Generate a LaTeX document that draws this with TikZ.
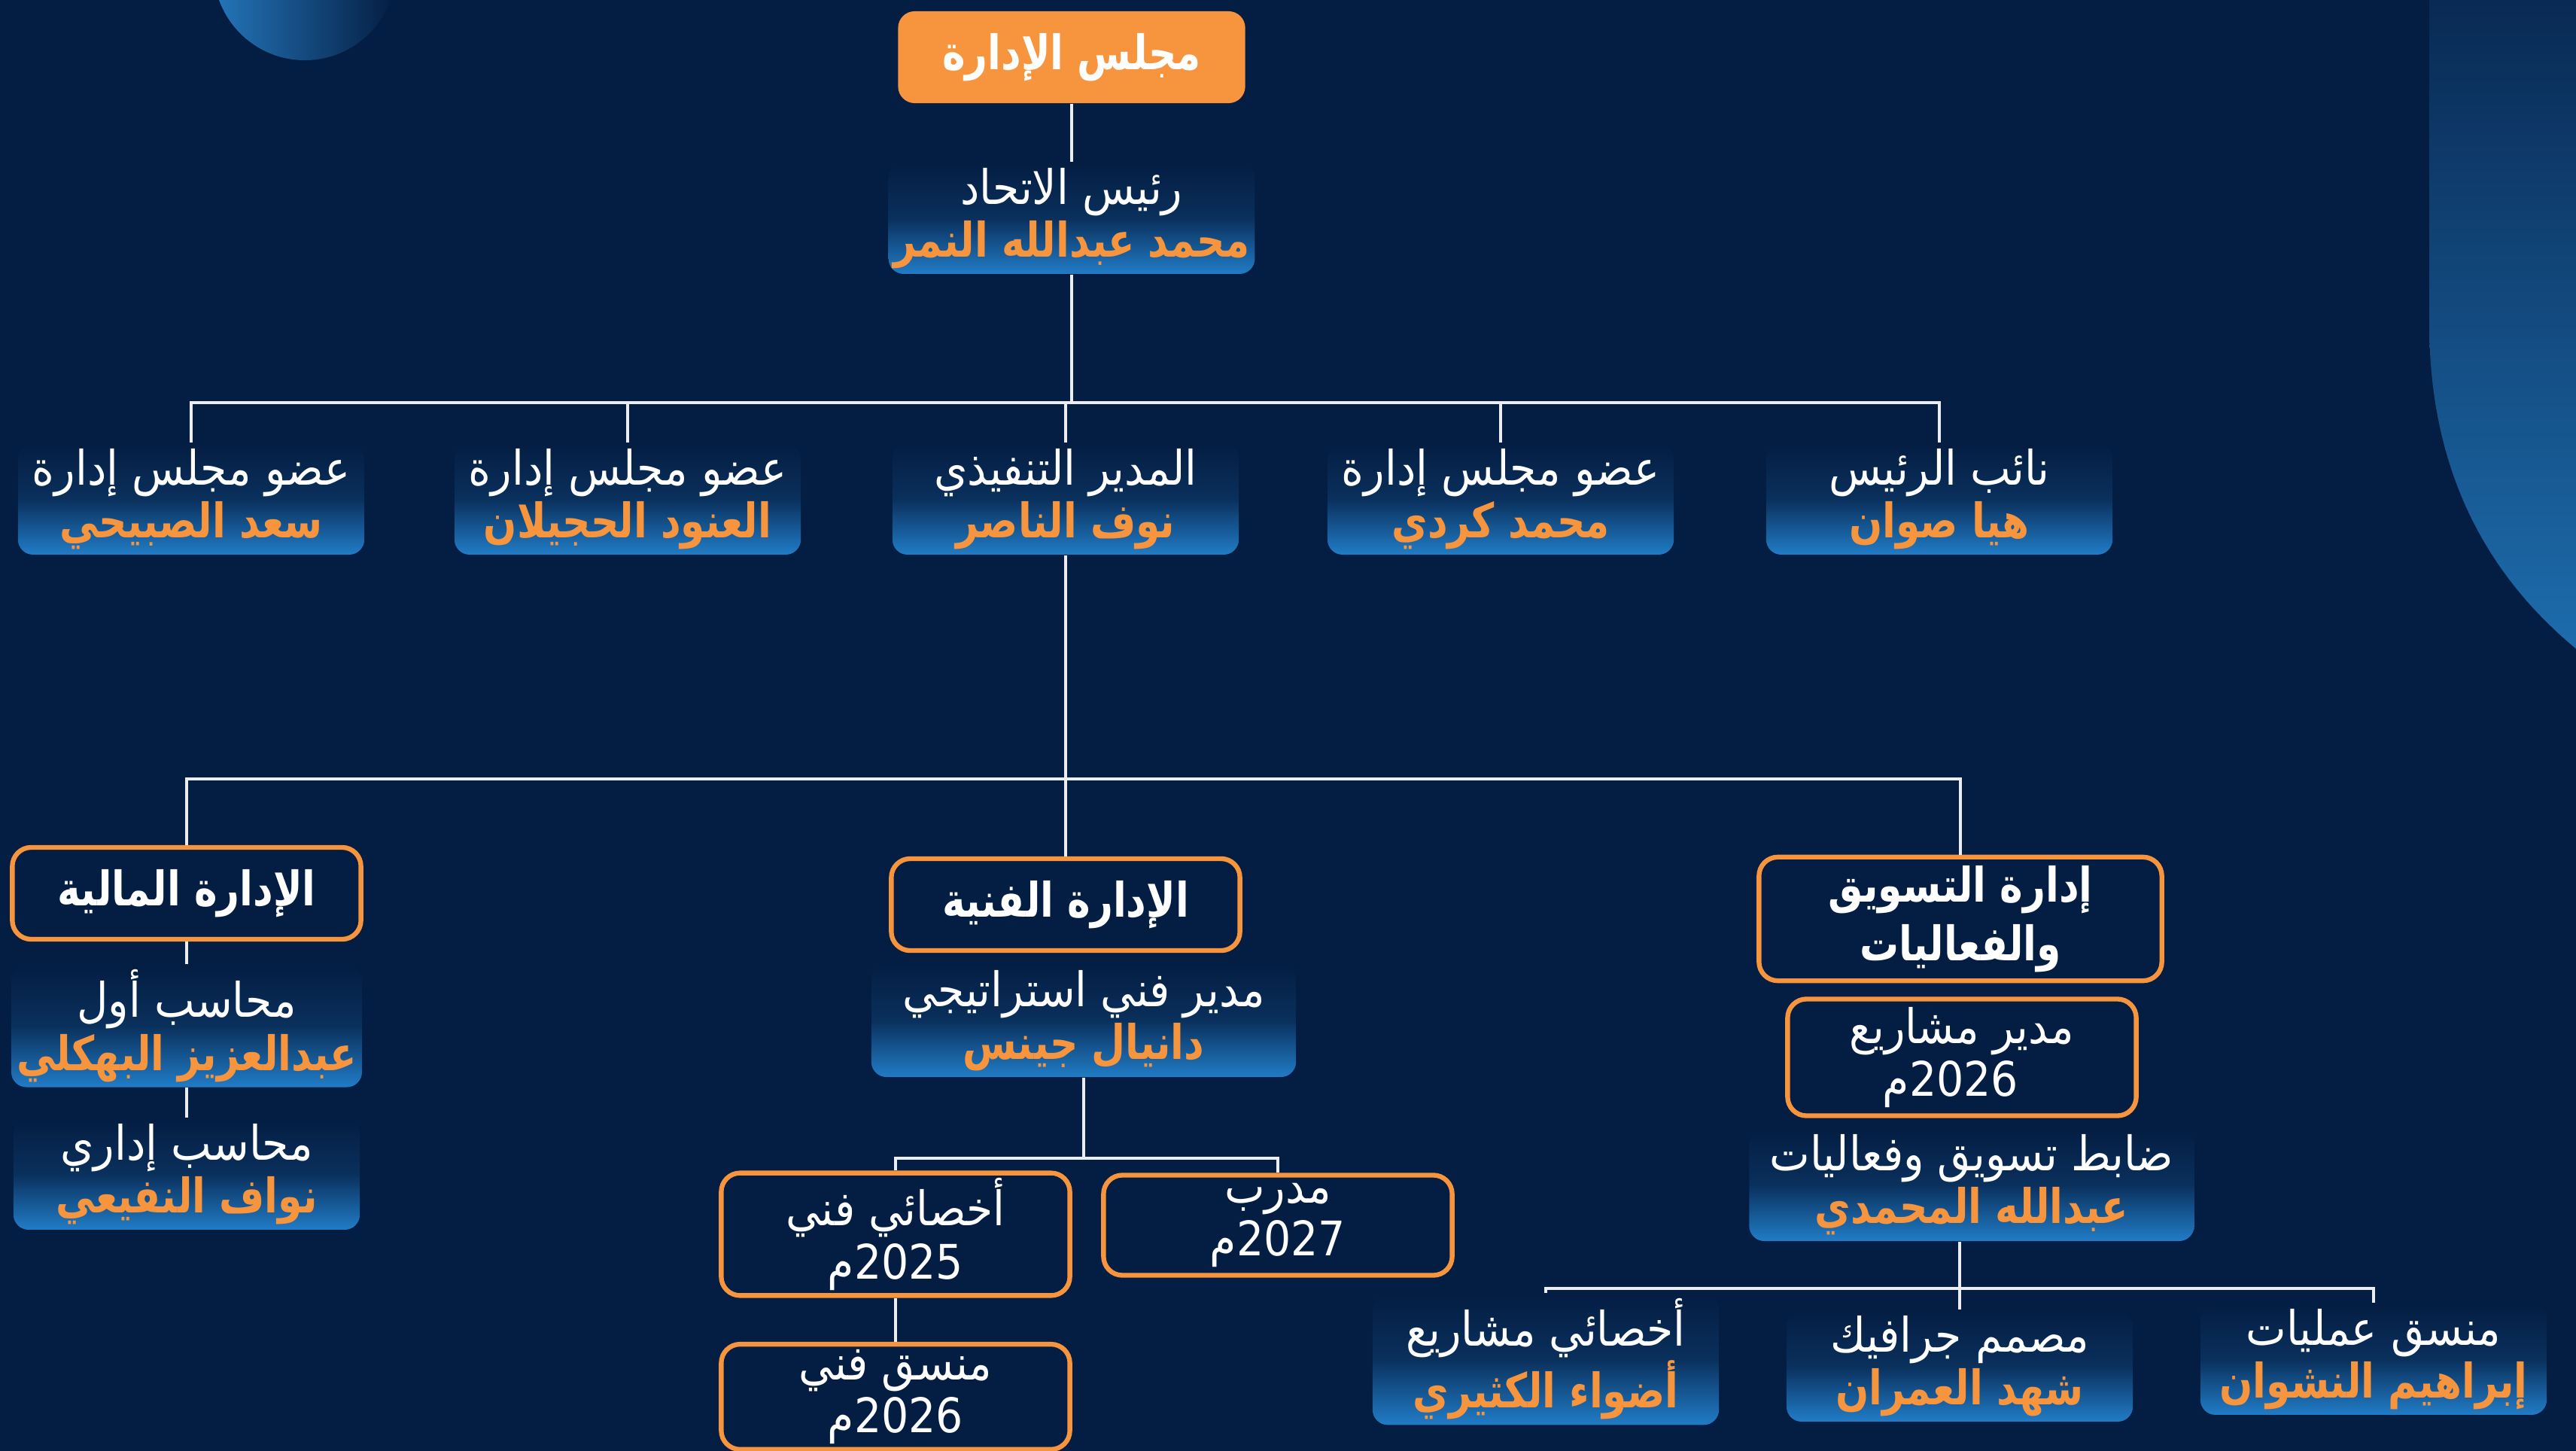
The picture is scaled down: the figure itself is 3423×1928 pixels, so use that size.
\documentclass[tikz,border=0pt]{standalone}
\usepackage{fontspec}
\newfontfamily\arabicfont[Script=Arabic, FakeStretch=0.9, BoldFeatures={FakeStretch=0.82}]{DejaVu Sans}
\TeXXeTstate=1
\definecolor{navybg}{RGB}{4,29,66}
\definecolor{chartorange}{RGB}{247,149,63}
\definecolor{glowblue}{RGB}{33,124,198}
\definecolor{circblue}{RGB}{36,118,186}
\definecolor{sidetop}{RGB}{9,42,84}
\definecolor{sidebot}{RGB}{29,108,172}
\newcommand{\rtlline}[1]{\beginR #1\endR}
\newcommand{\pname}[1]{\textcolor{chartorange}{\bfseries\beginR #1\endR}}
\tikzset{
  link/.style={draw=white!92!navybg, line width=0.9pt},
  board/.style={fill=chartorange, rounded corners=0.22cm, minimum width=4.61cm, minimum height=1.22cm,
    text=white, font=\arabicfont\bfseries\fontsize{18}{22}\selectfont},
  dept/.style={draw=chartorange, line width=1.8pt, fill=navybg, rounded corners=0.25cm,
    minimum width=4.63cm, minimum height=1.22cm, text=white, align=center,
    font=\arabicfont\bfseries\fontsize{18}{22}\selectfont},
  post/.style={draw=chartorange, line width=1.8pt, fill=navybg, rounded corners=0.25cm,
    minimum width=4.63cm, minimum height=1.45cm, inner sep=2pt, text=white, align=center,
    font=\arabicfont\fontsize{18}{20}\selectfont},
  staff/.style={top color=navybg, bottom color=glowblue, middle color=navybg!80!glowblue,
    rounded corners=0.2cm, minimum width=4.6cm, minimum height=1.4cm, inner sep=2pt,
    align=center, text=white, font=\arabicfont\fontsize{18}{20}\selectfont},
}
\begin{document}
\begin{tikzpicture}[x=0.01cm, y=-0.01cm]
  \useasboundingbox (0,0) rectangle (3423,1928);
  \clip (0,0) rectangle (3423,1928);
  \fill[navybg] (0,0) rectangle (3423,1928);
  % corner decorations
  \shade[left color=circblue, right color=navybg] (405,-41) circle (1.21cm);
  \shade[top color=sidetop, bottom color=sidebot] (3228,0) -- (3228,430)
    .. controls (3228,620) and (3300,760) .. (3423,862) -- (3423,0) -- cycle;

  % board and members
  \node[board] (board) at (1424,76) {\rtlline{مجلس الإدارة}};
  \node[staff, minimum width=4.68cm, minimum height=1.45cm] (chair) at (1424,290)
    {\rtlline{رئيس الاتحاد}\\\pname{محمد عبدالله النمر}};
  \node[staff] (saad) at (254,663) {\rtlline{عضو مجلس إدارة}\\\pname{سعد الصبيحي}};
  \node[staff] (anoud) at (834,663) {\rtlline{عضو مجلس إدارة}\\\pname{العنود الحجيلان}};
  \node[staff] (exec) at (1416,663) {\rtlline{المدير التنفيذي}\\\pname{نوف الناصر}};
  \node[staff] (kurdi) at (1994,663) {\rtlline{عضو مجلس إدارة}\\\pname{محمد كردي}};
  \node[staff] (vice) at (2577,663) {\rtlline{نائب الرئيس}\\\pname{هيا صوان}};
  \coordinate (bar1) at (1424,535);
  \draw[link] (board) -- (chair);
  \draw[link] (chair) -- (bar1);
  \foreach \n in {saad,anoud,exec,kurdi,vice}
    \draw[link] (bar1) -| (\n);

  % departments
  \node[dept] (finance) at (248,1187) {\rtlline{الإدارة المالية}};
  \node[dept] (tech) at (1416,1202) {\rtlline{الإدارة الفنية}};
  \node[dept, minimum width=5.35cm, minimum height=1.59cm] (marketing) at (2605,1221)
    {\rtlline{إدارة التسويق}\\\rtlline{والفعاليات}};
  \coordinate (bar2) at (1416,1035);
  \draw[link] (exec) -- (tech);
  \draw[link] (bar2) -| (finance);
  \draw[link] (bar2) -| (marketing);

  % finance
  \node[staff] (acc1) at (248,1363) {\rtlline{محاسب أول}\\\pname{عبدالعزيز البهكلي}};
  \node[staff] (acc2) at (248,1560) {\rtlline{محاسب إداري}\\\pname{نواف النفيعي}};
  \draw[link] (finance) -- (acc1);
  \draw[link] (acc1) -- (acc2);

  % technical
  \node[staff, minimum width=5.64cm, minimum height=1.5cm] (techdir) at (1440,1356)
    {\rtlline{مدير فني استراتيجي}\\\pname{دانيال جينس}};
  \node[post, minimum height=1.57cm] (spec) at (1190,1640) {\rtlline{أخصائي فني}\\\rtlline{\beginL 2025\endL م}};
  \node[post, minimum height=1.33cm] (coach) at (1698,1628) {\rtlline{مدرب}\\\rtlline{\beginL 2027\endL م}};
  \node[post, minimum height=1.39cm] (coord) at (1190,1856) {\rtlline{منسق فني}\\\rtlline{\beginL 2026\endL م}};
  \coordinate (bar3) at (1440,1539);
  \draw[link] (techdir) -- (bar3);
  \draw[link] (bar3) -| (spec);
  \draw[link] (bar3) -| (coach);
  \draw[link] (spec) -- (coord);

  % marketing
  \node[post, minimum height=1.55cm] (pm) at (2607,1405)
    {\rtlline{مدير مشاريع}\\\rtlline{\hspace*{0.3cm}\beginL 2026\endL م}};
  \node[staff, minimum width=5.91cm, minimum height=1.5cm] (officer) at (2620,1574)
    {\rtlline{ضابط تسويق وفعاليات}\\\pname{عبدالله المحمدي}};
  \node[staff] (projspec) at (2054,1806) {\rtlline{أخصائي مشاريع}\\\pname{أضواء الكثيري}};
  \node[staff] (designer) at (2604,1815) {\rtlline{مصمم جرافيك}\\\pname{شهد العمران}};
  \node[staff] (opscoord) at (3154,1806) {\rtlline{منسق عمليات}\\\pname{إبراهيم النشوان}};
  \coordinate (bar4) at (2604,1712);
  \draw[link] (officer.south -| bar4) -- (designer);
  \draw[link] (bar4) -| (projspec);
  \draw[link] (bar4) -| (opscoord);
\end{tikzpicture}
\end{document}
